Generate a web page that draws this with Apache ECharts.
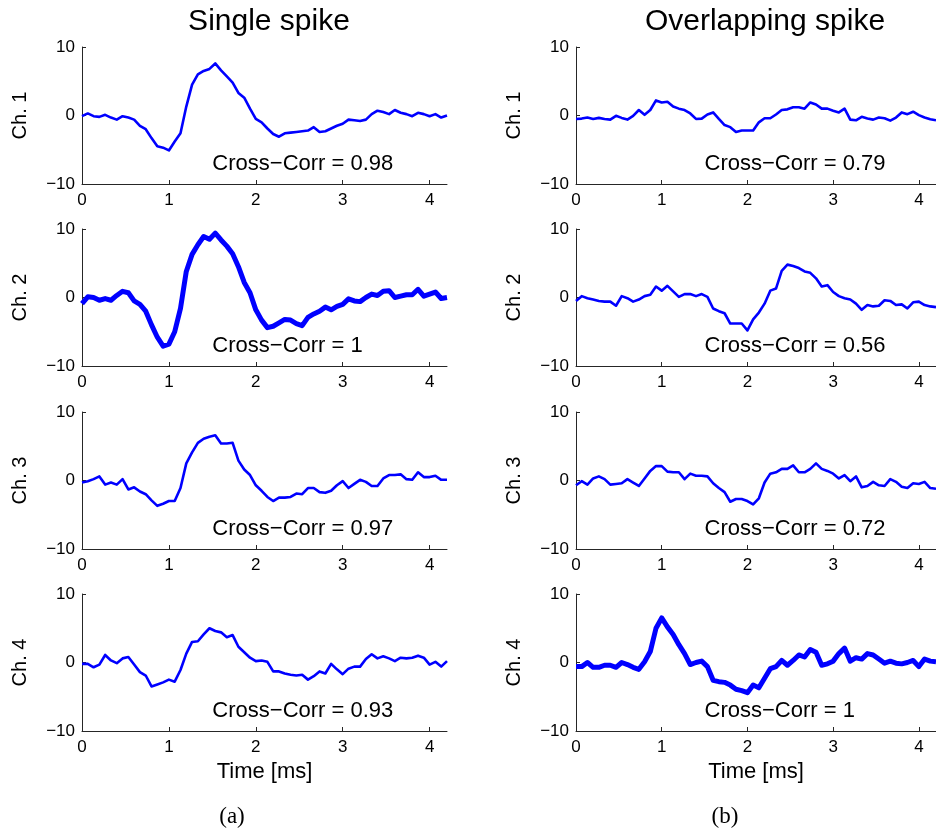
<!DOCTYPE html>
<html>
<head>
<meta charset="utf-8">
<script src="https://cdn.jsdelivr.net/npm/echarts@6/dist/echarts.min.js"></script>
<style>html,body{margin:0;padding:0;background:#fff}#c{width:936px;height:830px}</style>
</head>
<body>
<div id="c"></div>
<script>
// ---- data (amplitude per sample, 15 samples per ms) ----
const sampleRatePerMs = 15;
const xTicks = [0, 1, 2, 3, 4];
const yTicks = [-10, 0, 10];
const columnTitles = ['Single spike', 'Overlapping spike'];
const captions = ['(a)', '(b)'];
const channelNames = ['Ch. 1', 'Ch. 2', 'Ch. 3', 'Ch. 4'];

const singleCh1 = [-0.1,0.3,-0.1,-0.2,0.1,-0.3,-0.6,-0.1,-0.3,-0.6,
  -1.5,-2.0,-3.3,-4.5,-4.7,-5.1,-3.8,-2.6,1.3,4.5,
  6.0,6.5,6.8,7.6,6.6,5.7,4.8,3.3,2.6,1.0,
  -0.5,-1.0,-1.9,-2.7,-3.1,-2.6,-2.5,-2.4,-2.3,-2.2,
  -1.7,-2.4,-2.3,-1.9,-1.5,-1.2,-0.6,-0.7,-0.8,-0.6,
  0.2,0.7,0.5,0.2,0.8,0.4,0.2,-0.1,0.4,0.2,
  -0.1,0.2,-0.3,0.0];
const singleCh2 = [-0.9,0.1,0.0,-0.4,-0.15,-0.4,0.3,0.9,0.7,-0.5,
  -1.0,-2.0,-4.0,-5.8,-7.1,-6.8,-5.0,-1.6,3.8,6.3,
  7.7,8.9,8.5,9.4,8.4,7.5,6.4,4.5,2.2,0.7,
  -1.8,-3.3,-4.4,-4.2,-3.7,-3.2,-3.3,-3.8,-4.1,-2.9,
  -2.4,-2.0,-1.4,-1.8,-1.3,-1.0,-0.2,-0.5,-0.6,0.0,
  0.5,0.3,0.9,1.0,0.0,0.2,0.4,0.4,1.2,0.2,
  0.5,0.8,-0.15,0.0];
const singleCh3 = [-0.3,-0.1,0.2,0.6,-0.6,-0.3,-0.6,0.2,-1.3,-1.0,
  -1.6,-2.0,-2.9,-3.7,-3.4,-3.0,-3.0,-1.1,2.5,4.1,
  5.5,6.1,6.4,6.6,5.4,5.4,5.5,2.9,1.6,0.8,
  -0.7,-1.5,-2.4,-3.0,-2.5,-2.5,-2.4,-1.9,-2.0,-1.1,
  -1.1,-1.7,-1.8,-1.5,-0.7,-0.1,-1.1,-0.5,0.1,-0.2,
  -0.8,-0.8,0.3,0.8,0.8,0.9,0.2,0.1,1.2,0.5,
  0.5,0.7,0.1,0.1];
const singleCh4 = [-0.2,-0.2,-0.7,-0.3,1.1,0.3,-0.1,0.6,0.8,-0.3,
  -1.4,-1.9,-3.5,-3.2,-2.9,-2.5,-2.8,-1.1,1.3,3.0,
  3.1,4.1,5.0,4.6,4.4,3.7,4.0,2.3,1.5,0.7,
  0.2,0.3,0.1,-1.3,-1.3,-1.6,-1.8,-1.9,-1.8,-2.5,
  -2.0,-1.3,-1.6,-0.2,-1.0,-1.7,-0.9,-0.6,-0.6,0.5,
  1.2,0.6,0.9,0.6,0.2,0.7,0.6,0.7,1.0,0.7,
  -0.3,0.1,-0.6,0.2];
const overlapCh1 = [-0.5,-0.45,-0.3,-0.5,-0.35,-0.5,-0.6,-0.05,-0.35,-0.6,
  -0.05,0.8,0.1,0.8,2.2,1.9,2.0,1.3,1.0,0.8,
  0.3,-0.5,-0.45,0.15,0.45,-0.5,-1.4,-1.7,-2.4,-2.2,
  -2.2,-2.2,-1.0,-0.4,-0.4,0.15,0.8,0.9,1.2,1.2,
  1.0,1.9,1.6,1.0,1.0,0.7,0.45,1.0,-0.6,-0.7,
  -0.2,-0.45,-0.6,-0.3,-0.4,-0.75,-0.3,0.45,0.2,0.55,
  0.05,-0.3,-0.55,-0.7];
const overlapCh2 = [-0.5,0.2,-0.1,-0.3,-0.5,-0.6,-0.6,-1.2,0.2,-0.1,
  -0.6,-0.3,0.2,0.4,1.6,1.0,1.7,0.9,0.1,0.5,
  0.5,0.2,0.5,0.1,-1.6,-2.0,-2.3,-3.8,-3.8,-3.8,
  -4.8,-3.2,-2.2,-0.9,1.0,1.3,3.9,4.8,4.6,4.3,
  3.8,3.6,2.8,1.6,1.8,0.8,0.2,-0.1,-0.3,-0.9,
  -1.8,-1.1,-1.3,-1.2,-0.4,-0.5,-1.1,-1.0,-1.6,-0.7,
  -0.6,-1.1,-1.3,-1.4];
const overlapCh3 = [-0.7,-0.1,-0.6,0.3,0.6,0.2,-0.6,-0.5,-0.4,0.2,
  -0.3,-0.8,0.3,1.4,2.1,2.1,1.3,1.2,1.2,0.2,
  1.0,0.7,0.7,0.6,-0.4,-1.1,-1.7,-3.1,-2.7,-2.7,
  -3.0,-3.5,-2.6,-0.3,1.0,1.2,1.7,1.7,2.2,1.2,
  1.2,1.7,2.5,1.7,1.4,1.0,0.3,0.8,-0.1,0.6,
  -1.0,-0.8,-0.2,-0.7,-0.8,0.2,-0.2,-0.9,-1.1,-0.4,
  -0.5,-0.2,-1.1,-1.2];
const overlapCh4 = [-0.6,-0.6,0.0,-0.7,-0.7,-0.4,-0.4,-0.7,0.0,-0.3,
  -0.7,-1.0,0.1,1.6,5.0,6.5,5.2,4.1,2.6,1.3,
  -0.3,0.0,0.2,-0.6,-2.6,-2.8,-2.9,-3.3,-3.9,-4.1,
  -4.4,-3.3,-3.7,-2.3,-0.9,-0.6,0.3,-0.4,0.3,1.1,
  0.8,1.9,1.5,-0.4,-0.2,0.2,1.3,2.1,0.2,0.7,
  0.5,1.3,1.1,0.5,-0.1,0.2,-0.1,-0.2,0.0,0.3,
  -0.6,0.5,0.2,0.1];

const singleCorr = ['0.98', '1', '0.97', '0.93'];
const overlapCorr = ['0.79', '0.56', '0.72', '1'];
const singleThick = [false, true, false, false];
const overlapThick = [false, false, false, true];

const columns = [
  { traces: [singleCh1, singleCh2, singleCh3, singleCh4], corr: singleCorr, thick: singleThick },
  { traces: [overlapCh1, overlapCh2, overlapCh3, overlapCh4], corr: overlapCorr, thick: overlapThick }
];

// ---- layout ----
const colLeft = [82, 576];
const colWidth = 365;
const rowTop = [47, 229, 412, 594];
const rowHeight = 137;
const FONT = '"Liberation Sans", Arial, Helvetica, sans-serif';
const axisColor = '#262626';
const minus = v => String(v).replace('-', '\u2212');

const grids = [], xAxes = [], yAxes = [], series = [];
columns.forEach((col, c) => {
  col.traces.forEach((trace, r) => {
    const idx = grids.length;
    grids.push({ left: colLeft[c], top: rowTop[r], width: colWidth, height: rowHeight, containLabel: false });
    const last = r === 3;
    xAxes.push({
      type: 'value', gridIndex: idx, min: 0, max: 4.2,
      name: last ? 'Time [ms]' : '', nameLocation: 'middle', nameGap: 30,
      nameTextStyle: { fontFamily: FONT, fontSize: 22, color: '#000' },
      axisLine: { show: true, onZero: false, lineStyle: { color: axisColor, width: 1 } },
      axisTick: { show: true, inside: true, length: 4, customValues: xTicks, lineStyle: { color: axisColor } },
      axisLabel: { customValues: xTicks, fontFamily: FONT, fontSize: 17, color: '#000', margin: 8 },
      splitLine: { show: false }
    });
    yAxes.push({
      type: 'value', gridIndex: idx, min: -10, max: 10, interval: 10,
      name: channelNames[r], nameLocation: 'middle', nameGap: 52, nameRotate: 90,
      nameTextStyle: { fontFamily: FONT, fontSize: 20, color: '#000' },
      axisLine: { show: true, onZero: false, lineStyle: { color: axisColor, width: 1 } },
      axisTick: { show: true, inside: true, length: 4, lineStyle: { color: axisColor } },
      axisLabel: { fontFamily: FONT, fontSize: 17, color: '#000', margin: 7, formatter: minus },
      splitLine: { show: false }
    });
    series.push({
      type: 'line', xAxisIndex: idx, yAxisIndex: idx,
      data: trace.map((v, i) => [i / sampleRatePerMs, v]),
      showSymbol: false, symbol: 'none', clip: true,
      lineStyle: { color: '#0000ff', width: col.thick[r] ? 5 : 2.6, join: 'round' },
      itemStyle: { color: '#0000ff' },
      markPoint: {
        symbol: 'circle', symbolSize: 0, silent: true, animation: false,
        data: [{ coord: [1.5, -7], value: 0 }],
        label: { show: true, position: 'right', distance: 0, formatter: 'Cross\u2212Corr = ' + col.corr[r],
                 fontFamily: FONT, fontSize: 22, color: '#000' }
      }
    });
  });
});

const titles = [
  { text: columnTitles[0], left: 264, top: 2, textAlign: 'center', textStyle: { fontFamily: FONT, fontSize: 30, fontWeight: 'normal', color: '#000' } },
  { text: columnTitles[1], left: 760, top: 2, textAlign: 'center', textStyle: { fontFamily: FONT, fontSize: 30, fontWeight: 'normal', color: '#000' } },
  { text: captions[0], left: 227, top: 800, textAlign: 'center', textStyle: { fontFamily: '"Liberation Serif", "DejaVu Serif", serif', fontSize: 23, fontWeight: 'normal', color: '#000' } },
  { text: captions[1], left: 720, top: 800, textAlign: 'center', textStyle: { fontFamily: '"Liberation Serif", "DejaVu Serif", serif', fontSize: 23, fontWeight: 'normal', color: '#000' } }
];

const chart = echarts.init(document.getElementById('c'), null, { renderer: 'canvas' });
chart.setOption({
  animation: false,
  backgroundColor: '#ffffff',
  title: titles,
  grid: grids,
  xAxis: xAxes,
  yAxis: yAxes,
  series: series
});
</script>
</body>
</html>
